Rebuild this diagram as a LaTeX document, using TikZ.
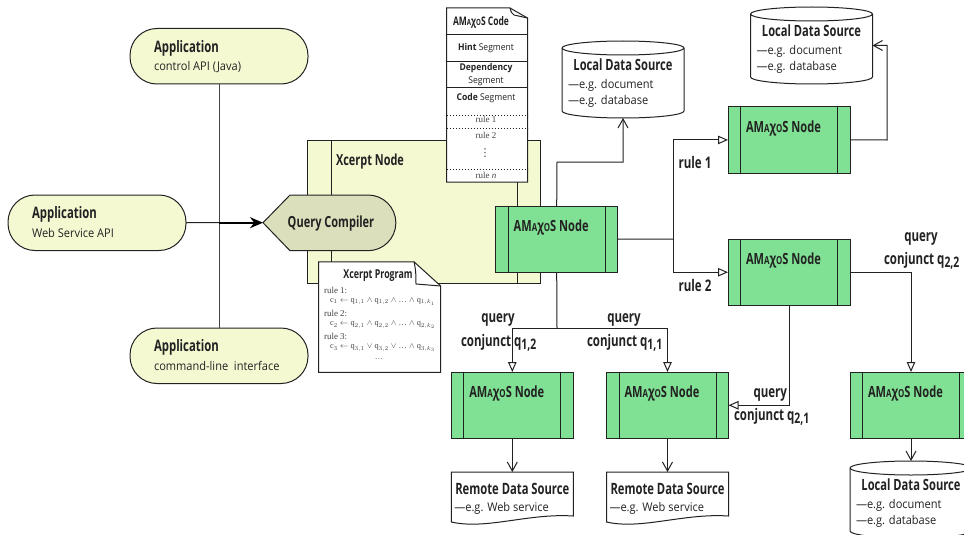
\documentclass[tikz,border=0pt]{standalone}
\usepackage{fontspec}
\setmainfont{Open Sans}[FakeStretch=0.72]
\newfontfamily\subf{Open Sans}[FakeStretch=0.92]
\newfontfamily\serifx{Liberation Serif}
\newfontfamily\symf{DejaVu Sans}
\usetikzlibrary{arrows.meta,calc}
\definecolor{cream}{HTML}{F5F9D2}
\definecolor{khaki}{HTML}{DBDFBB}
\definecolor{mint}{HTML}{80E094}
\definecolor{ink}{HTML}{222222}
\definecolor{serifgray}{HTML}{444444}
\newcommand\fsz[1]{\fontsize{#1}{#1}\selectfont}
\newcommand\amaxos{AM{\fsz{11}A}{\fsz{15.5}χ}{\fsz{11}O}S}
\newcommand\qs[1]{q\raisebox{-3pt}{\fsz{14.5}#1}}
\tikzset{
  every node/.style={inner sep=0pt,outer sep=0pt,text=ink},
  line/.style={draw=ink,line width=1pt},
  tri/.style={line,-{Triangle[fill=white,length=10pt,width=8.5pt,line width=1pt]}},
  vee/.style={line,-{Straight Barb[length=9pt,width=10pt,line width=1pt]}},
  title/.style={font=\bfseries\fsz{15.8},anchor=west,yshift=-1.5pt},
  sub/.style={font=\subf\fsz{12},anchor=west,yshift=-1pt},
  lab/.style={font=\bfseries\fsz{16},yshift=-1.5pt},
  app/.style={draw=ink,line width=1pt,fill=cream,rounded corners=27pt,minimum width=178pt,minimum height=55.5pt},
  gnode/.style={draw=ink,line width=1pt,fill=mint,minimum width=122pt,minimum height=66.5pt,anchor=north west},
  box/.style={minimum width=122pt,anchor=north west},
  sf/.style={font=\serifx\fsz{8.3},text=serifgray,anchor=west},
  rl/.style={font=\serifx\fsz{9},text=serifgray},
  codet/.style={font=\subf\fsz{9.3}},
}
\newcommand\gbox[3]{%
  \node[gnode] (#1) at (#2,#3) {};
  \draw[line] ($(#1.north west)+(12.5,0)$) -- ($(#1.south west)+(12.5,0)$);
  \draw[line] ($(#1.north east)+(-12.5,0)$) -- ($(#1.south east)+(-12.5,0)$);
  \node[title,font=\bfseries\fsz{15.4}] at ($(#1.north west)+(18,20.5)$) {\amaxos\ Node};
}
\newcommand\cyl[3]{%
  \node[box,minimum height=77pt] (#1) at (#2,#3) {};
  \draw[line,fill=white] ($(#1.north west)+(0,7)$) arc[start angle=180,end angle=0,x radius=61pt,y radius=7pt]
     -- ($(#1.south east)+(0,-7)$) arc[start angle=0,end angle=-180,x radius=61pt,y radius=7pt] -- cycle;
  \draw[line] ($(#1.north west)+(0,7)$) arc[start angle=180,end angle=360,x radius=61pt,y radius=7pt];
  \node[font=\bfseries\fsz{15.5},yshift=-1.5pt] at ($(#1.north)+(0,22.5)$) {Local Data Source};
  \node[sub] at ($(#1.north west)+(6,43.5)$) {—e.g. document};
  \node[sub] at ($(#1.north west)+(6,59.5)$) {—e.g. database};
}
\newcommand\remote[3]{%
  \node[box,minimum height=44pt] (#1) at (#2,#3) {};
  \draw[line,fill=white] (#1.north west) -- (#1.north east) -- (#1.south east)
    .. controls ($(#1.south east)+(-45,-3)$) and ($(#1.south west)+(35,14)$) .. ($(#1.south west)+(0,6)$) -- cycle;
  \node[font=\bfseries\fsz{15.6},yshift=-1.5pt] at ($(#1.north)+(0,15)$) {Remote Data Source};
  \node[sub] at ($(#1.north west)+(3,35)$) {—e.g. Web service};
}
\begin{document}
\begin{tikzpicture}[x=1pt,y=-1pt]
\clip (0,0) rectangle (964,535);
% Xcerpt node
\node[draw=ink,line width=1pt,fill=cream,minimum width=232.5pt,minimum height=143pt,anchor=north west] (xn) at (307.5,140) {};
\draw[line] ($(xn.north west)+(23.5,0)$) -- ($(xn.south west)+(23.5,0)$);
\draw[line] ($(xn.north east)+(-23,0)$) -- ($(xn.south east)+(-23,0)$);
\node[font=\bfseries\fsz{15.2},anchor=west,yshift=-1.5pt] at (336,160) {Xcerpt Node};
% Applications
\node[app,anchor=north west] (a1) at (130,28.5) {};
\node[app,anchor=north west] (a2) at (8,195) {};
\node[app,anchor=north west] (a3) at (130,328) {};
\node[title] at (154,47) {Application};
\node[sub] at (154,66) {control API (Java)};
\node[title] at (32,213) {Application};
\node[sub] at (32,232) {Web Service API};
\node[title] at (154,346) {Application};
\node[sub] at (154,365) {command-line\ \ interface};
% Query compiler
\coordinate (qtip) at (263,222.7);
\draw[line,fill=khaki] (qtip) -- (290,195) -- (368,195) arc[start angle=90,end angle=-90,radius=27.85pt] -- (290,250.7) -- cycle;
\node[font=\bfseries\fsz{15.3},yshift=-1.5pt] (qc) at (331,222) {Query Compiler};
\draw[line,draw=ink!85] (a1.south) -- (a3.north);
\draw[line] (a2.east) -- (219,222.7);
\draw[draw=black,line width=1.6pt,-{Stealth[length=13pt,width=11pt]}] (219,222.7) -- (qtip);
% Code document
\node[box,minimum width=81pt,minimum height=174pt,anchor=north west] (doc) at (446.5,8) {};
\draw[line,fill=white] (doc.north west) -- (510,8) -- (527.5,18) -- (doc.south east) -- (doc.south west) -- cycle;
\draw[line] (510,8) .. controls (511,12) and (512,14) .. (514,15) -- (527.5,18);
\draw[line] (446.5,35) -- (527.5,35) (446.5,62) -- (527.5,62) (446.5,88) -- (527.5,88);
\draw[line,dotted] (446.5,115) -- (527.5,115) (446.5,128) -- (527.5,128) (446.5,169) -- (527.5,169);
\node[font=\bfseries\fsz{11.8},yshift=-1pt] at (481,21) {AM{\fsz{8.5}A}{\fsz{11.8}χ}{\fsz{8.5}O}S Code};
\node[codet] at (486,48) {\textbf{Hint} Segment};
\node[codet] at (486,68) {\textbf{Dependency}};
\node[codet] at (486,81) {Segment};
\node[codet] at (486,98) {\textbf{Code} Segment};
\node[rl] at (486,119) {rule 1};
\node[rl] at (486,135) {rule 2};
\node[font=\symf\fsz{11},text=serifgray] at (485,153) {⋮};
\node[rl] at (486,175) {rule \textit{n}};
% Program document
\node[box,minimum width=122pt,minimum height=110.5pt] (prog) at (318.7,261.8) {};
\draw[line,fill=white] (prog.north west) -- (414,261.8) -- (440.7,286) -- (prog.south east) -- (prog.south west) -- cycle;
\draw[line] (414,261.8) .. controls (416,270) and (416,278) .. (416,284) -- (440.7,286);
\node[font=\bfseries\fsz{12.3}] at (378,276) {Xcerpt Program};
\node[rl,anchor=west] at (324,290) {rule 1:};
\node[sf] at (330,301.5) {c$_1$ $\leftarrow$ q$_{1,1}$ $\wedge$ q$_{1,2}$ $\wedge$ … $\wedge$ q$_{1,k_1}$};
\node[rl,anchor=west] at (324,313) {rule 2:};
\node[sf] at (330,325) {c$_2$ $\leftarrow$ q$_{2,1}$ $\wedge$ q$_{2,2}$ $\wedge$ … $\wedge$ q$_{2,k_2}$};
\node[rl,anchor=west] at (324,336) {rule 3:};
\node[sf] at (330,348) {c$_3$ $\leftarrow$ q$_{3,1}$ $\vee$ q$_{3,2}$ $\vee$ … $\wedge$ q$_{3,k_3}$};
\node[sf,anchor=center] at (379,359) {…};
% Green nodes
\gbox{main}{495.7}{206}
\gbox{n1}{728}{106.7}
\gbox{n2}{728}{239}
\gbox{n3}{850}{372}
\gbox{n11}{606.5}{372}
\gbox{n12}{451.3}{372}
% Data sources
\cyl{c1}{562}{41}
\cyl{c2}{750.5}{7}
\cyl{c3}{850}{461}
\remote{r1}{451.3}{472}
\remote{r2}{606.5}{472}
% Connectors
\coordinate (up) at (557,162);
\coordinate (rj) at (673,239);
\coordinate (dj) at (557,328);
\coordinate (c2j) at (887,140);
\draw[vee] (main.north) -- (up) -| (c1.south);
\draw[line] (main.east) -- (rj);
\draw[tri] (rj) |- (n1.west);
\draw[tri] (rj) |- (n2.west);
\draw[vee] (n1.east) -- (c2j) |- (c2.east);
\draw[tri] (n2.east) -| (n3.north);
\draw[vee] (n3.south) -- (c3.north);
\draw[tri] (n2.south) |- (n11.east);
\draw[line] (main.south) -- (dj);
\draw[tri] (dj) -| (n12.north);
\draw[tri] (dj) -| (n11.north);
\draw[vee] (n12.south) -- (r1.north);
\draw[vee] (n11.south) -- (r2.north);
% Labels
\node[lab] at (695,161) {rule 1};
\node[lab] at (695,284) {rule 2};
\node[lab] at (498,318) {query};
\node[lab,anchor=west] at (461,341) {conjunct \qs{1,2}};
\node[lab] at (624,318) {query};
\node[lab,anchor=west] at (587,341) {conjunct \qs{1,1}};
\node[lab,anchor=east] at (787,393) {query};
\node[lab,anchor=west] at (734,415) {conjunct \qs{2,1}};
\node[lab] at (921,237) {query};
\node[lab,anchor=west] at (884,259) {conjunct \qs{2,2}};
\end{tikzpicture}
\end{document}
